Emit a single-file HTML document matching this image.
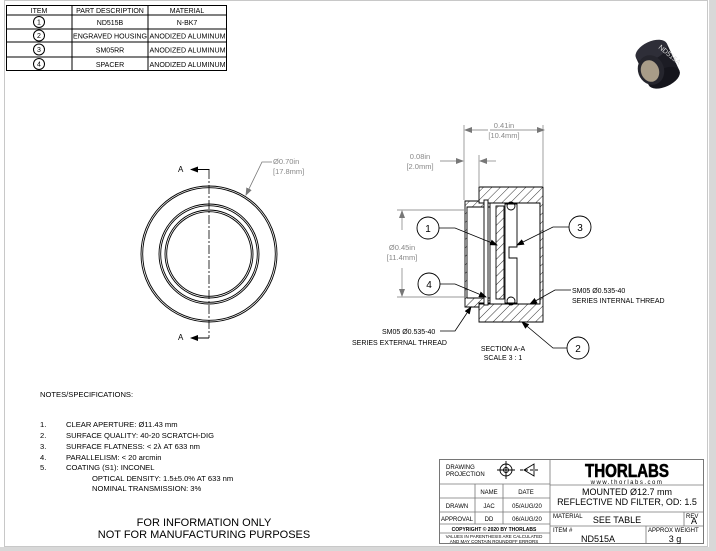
<!DOCTYPE html>
<html><head><meta charset="utf-8"><style>
html,body{margin:0;padding:0;background:#fff;}
svg{display:block;font-family:"Liberation Sans",sans-serif;}
</style></head><body>
<svg width="716" height="551" viewBox="0 0 716 551" xmlns="http://www.w3.org/2000/svg">
<defs>
<pattern id="h" width="6" height="6" patternUnits="userSpaceOnUse" patternTransform="rotate(45)">
<rect width="6" height="6" fill="#fff"/><line x1="0" y1="0" x2="0" y2="6" stroke="#000" stroke-width="0.8"/></pattern>
<marker id="ar" markerWidth="8" markerHeight="6" refX="7" refY="3" orient="auto" markerUnits="userSpaceOnUse"><path d="M0,0 L8,3 L0,6z" fill="#000"/></marker>
<marker id="ag" markerWidth="8" markerHeight="6" refX="7" refY="3" orient="auto" markerUnits="userSpaceOnUse"><path d="M0,0 L8,3 L0,6z" fill="#777"/></marker>
</defs>
<rect x="0" y="0" width="716" height="551" fill="#fff"/>
<rect x="709" y="0" width="7" height="551" fill="#d8d8d8"/>
<rect x="0" y="547" width="716" height="4" fill="#d8d8d8"/>
<rect x="4.5" y="0.5" width="703" height="546" fill="none" stroke="#c8c8c8"/>

<!-- BOM table -->
<g stroke="#000" stroke-width="1" fill="none">
<rect x="6.5" y="5.5" width="220" height="65"/>
<line x1="6" y1="15" x2="227" y2="15"/><line x1="6" y1="29" x2="227" y2="29"/><line x1="6" y1="42" x2="227" y2="42"/><line x1="6" y1="57" x2="227" y2="57"/>
<line x1="72" y1="5" x2="72" y2="71"/><line x1="148" y1="5" x2="148" y2="71"/>
<circle cx="39" cy="22" r="5.5"/><circle cx="39" cy="35.5" r="5.5"/><circle cx="39" cy="49.5" r="5.5"/><circle cx="39" cy="64" r="5.5"/>
</g>
<g font-size="7" text-anchor="middle" fill="#000">
<text x="39" y="13">ITEM</text><text x="110" y="13">PART DESCRIPTION</text><text x="187" y="13">MATERIAL</text>
<text x="39" y="24.5">1</text><text x="39" y="38">2</text><text x="39" y="52">3</text><text x="39" y="66.5">4</text>
<text x="110" y="25">ND515B</text><text x="187" y="25">N-BK7</text>
<text x="110" y="38.5" textLength="74" lengthAdjust="spacingAndGlyphs">ENGRAVED HOUSING</text><text x="187.5" y="38.5" textLength="76" lengthAdjust="spacingAndGlyphs">ANODIZED ALUMINUM</text>
<text x="110" y="52.5">SM05RR</text><text x="187.5" y="52.5" textLength="76" lengthAdjust="spacingAndGlyphs">ANODIZED ALUMINUM</text>
<text x="110" y="67">SPACER</text><text x="187.5" y="67" textLength="76" lengthAdjust="spacingAndGlyphs">ANODIZED ALUMINUM</text>
</g>

<!-- product photo -->
<g transform="rotate(-25 660 62)">
<rect x="640" y="48" width="34" height="30" fill="#1c1c24"/>
<ellipse cx="657" cy="78" rx="17" ry="9" fill="#15151c"/>
<ellipse cx="657" cy="48" rx="17" ry="9" fill="#2e2e38"/>
</g>
<ellipse cx="651" cy="70" rx="13" ry="15" fill="#25252d" transform="rotate(-20 651 70)"/>
<ellipse cx="650" cy="71" rx="9" ry="11" fill="#a89c88" transform="rotate(-20 650 71)"/>
<text x="658" y="48" font-size="7" fill="#ddd" transform="rotate(40 658 48)">ND515A</text>

<!-- front view -->
<g fill="none" stroke="#000" stroke-width="0.9">
<circle cx="209" cy="254" r="68"/><circle cx="209" cy="254" r="66.3"/>
<circle cx="209" cy="254" r="50"/><circle cx="209" cy="254" r="48.3"/>
<circle cx="209" cy="254" r="44"/><circle cx="209" cy="254" r="42.3"/>
</g>
<line x1="209" y1="170" x2="209" y2="338" stroke="#000" stroke-width="0.8" stroke-dasharray="9,2,2,2"/>
<path d="M209,170 V169.5 H191" stroke="#000" fill="none" stroke-width="1" marker-end="url(#ar)"/>
<path d="M209,338 H191" stroke="#000" fill="none" stroke-width="1" marker-end="url(#ar)"/>
<text x="178" y="172" font-size="8">A</text><text x="178" y="340" font-size="8">A</text>
<path d="M272,162 H262 L246,195" stroke="#777" fill="none" stroke-width="0.8" marker-end="url(#ag)"/>
<text x="273" y="164" font-size="7.5" fill="#888">Ø0.70in</text>
<text x="273" y="174" font-size="7.5" fill="#888">[17.8mm]</text>

<!-- section view -->
<g stroke="#000" stroke-width="0.9">
<path d="M479,187 H543 V322 H479 V304 H540 V203 H479 Z" fill="url(#h)"/>
<path d="M465,201 H479 V203 H490 V207 H467 V298 H490 V303 H479 V307 H465 Z" fill="url(#h)"/>
<rect x="484" y="200" width="4" height="105" fill="#fff"/>
<rect x="496" y="206" width="8" height="93" fill="url(#h)"/>
<path d="M505,204 H517 V247 H509 V258 H517 V303 H505 Z" fill="#fff"/>
<line x1="490" y1="207" x2="490" y2="298" fill="none"/>
<line x1="540" y1="203" x2="540" y2="304" fill="none"/>
<circle cx="511" cy="206" r="4" fill="none"/><circle cx="511" cy="301" r="4" fill="none"/>
</g>
<!-- dims -->
<g stroke="#777" stroke-width="0.7" fill="none">
<line x1="464" y1="125" x2="464" y2="200"/><line x1="543" y1="125" x2="543" y2="186"/>
<line x1="479" y1="155" x2="479" y2="186"/>
<line x1="490" y1="130" x2="544" y2="130" marker-end="url(#ag)"/><line x1="488" y1="130" x2="465" y2="130" marker-end="url(#ag)"/>
<line x1="440" y1="161" x2="463" y2="161" marker-end="url(#ag)"/><line x1="496" y1="161" x2="480" y2="161" marker-end="url(#ag)"/>
<line x1="397" y1="210" x2="464" y2="210"/><line x1="397" y1="297" x2="464" y2="297"/>
<line x1="402" y1="230" x2="402" y2="211" marker-end="url(#ag)"/><line x1="402" y1="268" x2="402" y2="296" marker-end="url(#ag)"/>
</g>
<g font-size="7.5" fill="#888" text-anchor="middle">
<text x="504" y="128">0.41in</text><text x="504" y="138">[10.4mm]</text>
<text x="420" y="159">0.08in</text><text x="420" y="169">[2.0mm]</text>
<text x="402" y="250">Ø0.45in</text><text x="402" y="260">[11.4mm]</text>
</g>
<!-- balloons -->
<g stroke="#000" stroke-width="0.9" fill="#fff">
<circle cx="428" cy="228" r="11"/><circle cx="580" cy="227" r="11"/><circle cx="429" cy="284" r="11"/><circle cx="578" cy="348" r="11"/>
</g>
<g stroke="#000" stroke-width="0.8" fill="none">
<path d="M439,228 H455 L497,245" marker-end="url(#ar)"/>
<path d="M569,227 H553 L517,245" marker-end="url(#ar)"/>
<path d="M440,284 H455 L486,297" marker-end="url(#ar)"/>
<path d="M567,348 H553 L522,322" marker-end="url(#ar)"/>
<path d="M571,290 H555 L530,304" marker-end="url(#ar)"/>
<path d="M440,331 H455 L471,307" marker-end="url(#ar)"/>
</g>
<g font-size="10" text-anchor="middle"><text x="428" y="232">1</text><text x="580" y="231">3</text><text x="429" y="288">4</text><text x="578" y="352">2</text></g>
<g font-size="7">
<text x="572" y="293">SM05 Ø0.535-40</text><text x="572" y="303">SERIES INTERNAL THREAD</text>
<text x="382" y="334">SM05 Ø0.535-40</text><text x="352" y="345">SERIES EXTERNAL THREAD</text>
<text x="503" y="351" text-anchor="middle">SECTION A-A</text><text x="503" y="360" text-anchor="middle">SCALE 3 : 1</text>
</g>

<!-- notes -->
<g font-size="7.6">
<text x="40" y="397">NOTES/SPECIFICATIONS:</text>
<text x="40" y="427">1.</text><text x="66" y="427">CLEAR APERTURE: Ø11.43 mm</text>
<text x="40" y="438">2.</text><text x="66" y="438">SURFACE QUALITY: 40-20 SCRATCH-DIG</text>
<text x="40" y="449">3.</text><text x="66" y="449">SURFACE FLATNESS: &lt; 2λ AT 633 nm</text>
<text x="40" y="460">4.</text><text x="66" y="460">PARALLELISM: &lt; 20 arcmin</text>
<text x="40" y="470">5.</text><text x="66" y="470">COATING (S1): INCONEL</text>
<text x="92" y="481">OPTICAL DENSITY: 1.5±5.0% AT 633 nm</text>
<text x="92" y="491">NOMINAL TRANSMISSION: 3%</text>
</g>
<g font-size="11" text-anchor="middle"><text x="204" y="526">FOR INFORMATION ONLY</text><text x="204" y="538">NOT FOR MANUFACTURING PURPOSES</text></g>

<!-- title block -->
<g stroke="#777" stroke-width="0.8" fill="none">
<rect x="439.5" y="459.5" width="264" height="84" stroke="#555"/>
<line x1="550" y1="459" x2="550" y2="544"/>
<line x1="439" y1="484" x2="550" y2="484"/><line x1="439" y1="498" x2="550" y2="498"/><line x1="439" y1="512" x2="704" y2="512"/>
<line x1="439" y1="524" x2="550" y2="524"/><line x1="439" y1="533" x2="550" y2="533"/>
<line x1="475" y1="484" x2="475" y2="524"/><line x1="503" y1="484" x2="503" y2="524"/>
<line x1="550" y1="485" x2="704" y2="485"/><line x1="550" y1="526" x2="704" y2="526"/>
<line x1="684" y1="512" x2="684" y2="526"/><line x1="646" y1="526" x2="646" y2="544"/>
</g>
<g stroke="#000" stroke-width="0.9" fill="none">
<circle cx="506" cy="470" r="6"/><circle cx="506" cy="470" r="2.5"/>
<line x1="497" y1="470" x2="515" y2="470"/><line x1="506" y1="461" x2="506" y2="479"/>
<path d="M524,470 L534,464 V476 Z"/><line x1="520" y1="470" x2="540" y2="470" stroke-dasharray="3,2"/>
</g>
<g font-size="6">
<text x="446" y="469">DRAWING</text><text x="446" y="476">PROJECTION</text>
<text x="489" y="494" text-anchor="middle">NAME</text><text x="526" y="494" text-anchor="middle">DATE</text>
<text x="457" y="508" text-anchor="middle">DRAWN</text><text x="489" y="508" text-anchor="middle">JAC</text><text x="527" y="508" text-anchor="middle">05/AUG/20</text>
<text x="457" y="521" text-anchor="middle">APPROVAL</text><text x="489" y="521" text-anchor="middle">DD</text><text x="527" y="521" text-anchor="middle">06/AUG/20</text>
<text x="494" y="531" text-anchor="middle" font-size="5" font-weight="bold">COPYRIGHT © 2020 BY THORLABS</text>
<text x="494" y="538" text-anchor="middle" font-size="4.5">VALUES IN PARENTHESIS ARE CALCULATED</text>
<text x="494" y="543" text-anchor="middle" font-size="4.5">AND MAY CONTAIN ROUNDOFF ERRORS</text>
<text x="553" y="518">MATERIAL</text><text x="686" y="518">REV</text>
<text x="553" y="532">ITEM #</text><text x="648" y="532">APPROX WEIGHT</text>
</g>
<text x="627" y="477" font-size="18" font-weight="bold" text-anchor="middle" stroke="#000" stroke-width="0.6" textLength="84" lengthAdjust="spacingAndGlyphs">THORLABS</text>
<text x="627" y="484" font-size="6" text-anchor="middle" letter-spacing="1.5">www.thorlabs.com</text>
<g font-size="9" text-anchor="middle">
<text x="627" y="495">MOUNTED Ø12.7 mm</text><text x="627" y="505">REFLECTIVE ND FILTER, OD: 1.5</text>
<text x="617" y="523">SEE TABLE</text><text x="694" y="524">A</text>
<text x="598" y="542">ND515A</text><text x="675" y="542">3 g</text>
</g>
</svg>
</body></html>
